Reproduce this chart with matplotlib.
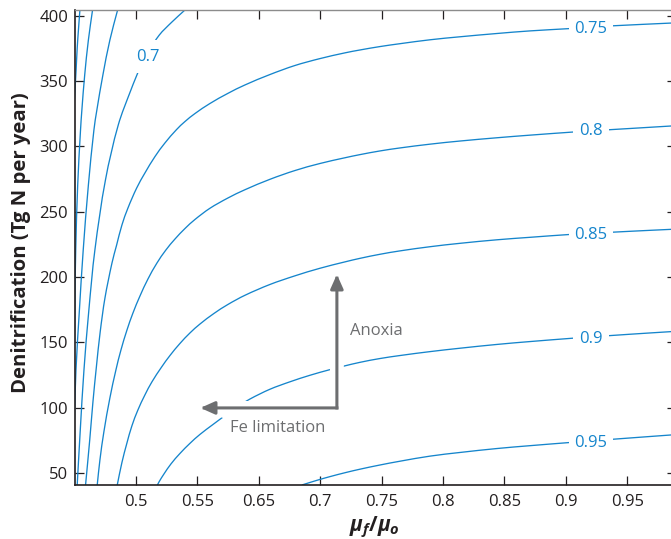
import matplotlib
matplotlib.use("Agg")
import numpy as np
import matplotlib.pyplot as plt
from matplotlib.path import Path
from matplotlib.patches import PathPatch

plt.rcParams["font.family"] = ["Open Sans", "DejaVu Sans"]
plt.rcParams["mathtext.fontset"] = "custom"
plt.rcParams["mathtext.it"] = "Open Sans:italic:bold"
plt.rcParams["mathtext.rm"] = "Open Sans:bold"
plt.rcParams["mathtext.bf"] = "Open Sans:bold"

# Contour levels and the (mu_f/mu_o, denitrification) points along each line
levels = [0.55, 0.6, 0.65, 0.7, 0.75, 0.8, 0.85, 0.9, 0.95]

ratio_055 = [0.4544, 0.4532, 0.4522, 0.4513, 0.4503, 0.4497]
denit_055 = [404.4, 389.1, 375.3, 358.4, 341.6, 331.7]

ratio_060 = [0.4647, 0.4613, 0.4583, 0.4560, 0.4549, 0.4526, 0.4510, 0.4502, 0.4497]
denit_060 = [404.4, 381.4, 354.6, 327.8, 312.5, 270.4, 220.7, 174.8, 128.8]

ratio_065 = [0.4851, 0.4788, 0.4731, 0.4682, 0.4658, 0.4613, 0.4571, 0.4540, 0.4512,
             0.4499, 0.4494]
denit_065 = [404.4, 381.4, 354.6, 327.8, 312.5, 270.4, 220.7, 174.8, 128.8,
             90.6, 75.3]

ratio_070 = [0.5399, 0.5293, 0.5190, 0.5102, 0.5033, 0.4959, 0.4856, 0.4752, 0.4666,
             0.4617, 0.4577, 0.4547, 0.4522]
denit_070 = [404.4, 395.2, 385.2, 372.2, 360.0, 343.1, 316.3, 274.3, 220.7,
             174.8, 128.8, 82.9, 40.8]

ratio_075 = [0.9356, 0.8881, 0.8696, 0.8517, 0.8208, 0.7937, 0.7638, 0.7394, 0.7149,
             0.6986, 0.6824, 0.6702, 0.6498, 0.6294, 0.6091, 0.5887, 0.5749, 0.5602,
             0.5480, 0.5399, 0.5331, 0.5236, 0.5155, 0.5073, 0.5006, 0.4935, 0.4886,
             0.4843, 0.4805, 0.4748, 0.4709, 0.4678, 0.4650, 0.4624, 0.4590]
denit_075 = [394.4, 392.3, 391.2, 390.1, 388.4, 386.4, 383.9, 381.6, 378.6,
             376.4, 373.8, 371.6, 367.2, 361.9, 355.0, 347.0, 340.6, 332.8,
             325.1, 319.0, 312.9, 302.6, 292.2, 279.6, 268.1, 252.8, 239.8,
             224.5, 210.7, 184.0, 157.9, 131.1, 104.3, 75.3, 40.8]

ratio_080 = [0.9356, 0.9022, 0.8845, 0.8696, 0.8560, 0.8208, 0.7939, 0.7638, 0.7394,
             0.7149, 0.6986, 0.6824, 0.6702, 0.6498, 0.6294, 0.6091, 0.5887, 0.5749,
             0.5602, 0.5480, 0.5399, 0.5318, 0.5244, 0.5171, 0.5098, 0.5033, 0.4976,
             0.4927, 0.4878, 0.4837, 0.4788, 0.4739, 0.4707, 0.4685]
denit_080 = [315.6, 313.7, 312.7, 311.8, 311.0, 308.6, 306.6, 304.1, 301.7,
             298.8, 296.5, 293.7, 291.3, 286.9, 281.5, 274.8, 266.8, 260.5,
             252.6, 244.0, 237.1, 229.1, 220.7, 210.7, 198.5, 185.5, 172.5,
             159.4, 144.1, 128.8, 107.4, 81.4, 60.0, 40.8]

ratio_085 = [0.9356, 0.9022, 0.8696, 0.8520, 0.8208, 0.7939, 0.7638, 0.7394, 0.7149,
             0.6986, 0.6824, 0.6702, 0.6498, 0.6294, 0.6091, 0.5887, 0.5749, 0.5635,
             0.5521, 0.5440, 0.5358, 0.5277, 0.5209, 0.5130, 0.5073, 0.5016, 0.4967,
             0.4927, 0.4886, 0.4848]
denit_085 = [236.5, 235.0, 233.4, 232.5, 230.4, 228.5, 225.8, 223.2, 220.0,
             217.4, 214.3, 211.6, 206.7, 200.9, 194.3, 186.0, 179.0, 172.1,
             164.0, 157.2, 149.1, 139.9, 131.1, 119.7, 109.7, 98.2, 86.0,
             73.0, 58.0, 40.8]

ratio_090 = [0.9356, 0.9022, 0.8696, 0.8560, 0.8208, 0.7939, 0.7638, 0.7394, 0.7149,
             0.6986, 0.6824, 0.6688, 0.6579, 0.6417, 0.6254, 0.6091, 0.5928, 0.5830,
             0.5738, 0.5627, 0.5521, 0.5440, 0.5358, 0.5285, 0.5228, 0.5190, 0.5175]
denit_090 = [158.2, 156.2, 154.1, 153.2, 150.6, 148.4, 145.5, 142.9, 139.9,
             137.6, 134.7, 131.7, 129.1, 124.8, 119.8, 114.1, 106.6, 100.9,
             94.8, 87.1, 79.5, 72.7, 64.9, 56.9, 49.2, 43.5, 40.8]

ratio_095 = [0.9356, 0.9022, 0.8696, 0.8528, 0.8208, 0.7937, 0.7638, 0.7394, 0.7149,
             0.6986, 0.6824, 0.6702, 0.6579, 0.6474, 0.6351]
denit_095 = [79.1, 76.8, 74.5, 73.3, 70.9, 68.7, 65.7, 62.9, 59.0,
             56.1, 52.9, 50.2, 47.2, 44.4, 40.8]

lines_ratio = [ratio_055, ratio_060, ratio_065, ratio_070, ratio_075,
               ratio_080, ratio_085, ratio_090, ratio_095]
lines_denit = [denit_055, denit_060, denit_065, denit_070, denit_075,
               denit_080, denit_085, denit_090, denit_095]

# Which levels carry an inline label, and where the label sits
labelled_levels = [0.7, 0.75, 0.8, 0.85, 0.9, 0.95]
label_ratio = [0.5098, 0.8704, 0.8704, 0.8704, 0.8704, 0.8704]
label_denit = [368.8, 389.8, 311.8, 231.8, 152.6, 73.2]

xtick_pos = [0.50, 0.55, 0.60, 0.65, 0.70, 0.75, 0.80, 0.85, 0.90]
xtick_labels = ["0.5", "0.55", "0.65", "0.7", "0.75", "0.8", "0.85", "0.9", "0.95"]
ytick_pos = [50, 100, 150, 200, 250, 300, 350, 400]

XLIM = (0.45, 0.9394)
YLIM = (40.8, 404.4)

BLUE = "#1585cc"
GRAY = "#6d6e70"
INK = "#231f20"


def smooth_path(xs, ys):
    """Cubic Bezier path passing through every point (chord-length tangents)."""
    P = np.column_stack([xs, ys]).astype(float)
    span = np.array([XLIM[1] - XLIM[0], YLIM[1] - YLIM[0]])
    d = np.hypot(*(np.diff(P, axis=0) / span).T)
    t = np.concatenate([[0.0], np.cumsum(d)])
    n = len(P)
    T = np.empty_like(P)
    T[0] = (P[1] - P[0]) / (t[1] - t[0])
    T[-1] = (P[-1] - P[-2]) / (t[-1] - t[-2])
    for i in range(1, n - 1):
        T[i] = (P[i + 1] - P[i - 1]) / (t[i + 1] - t[i - 1])
    verts = [P[0]]
    codes = [Path.MOVETO]
    for i in range(n - 1):
        h = t[i + 1] - t[i]
        verts += [P[i] + T[i] * h / 3, P[i + 1] - T[i + 1] * h / 3, P[i + 1]]
        codes += [Path.CURVE4] * 3
    return Path(verts, codes)


W, H = 671, 539
fig = plt.figure(figsize=(W / 100, H / 100), dpi=100)
ax = fig.add_axes([74.5 / W, 1 - 485 / H, (675.7 - 74.5) / W, (485 - 10) / H])
ax.set_xlim(*XLIM)
ax.set_ylim(*YLIM)

for xs, ys in zip(lines_ratio, lines_denit):
    ax.add_patch(PathPatch(smooth_path(xs, ys), fill=False, ec=BLUE, lw=0.95,
                           joinstyle="round", zorder=2))

for lev, lx, ly in zip(labelled_levels, label_ratio, label_denit):
    pad = 0.5 if lev == 0.7 else 0.35
    ax.text(lx, ly, f"{lev:g}", color=BLUE, fontsize=12, ha="center", va="center",
            bbox=dict(boxstyle=f"square,pad={pad}", fc="white", ec="none"), zorder=4)

# Process arrows: anoxia (up) and Fe limitation (left), with a white halo
corner = (0.6636, 99.8)
tips = [(0.6636, 202.0), (0.5525, 99.8)]
style = "-|>,head_length=0.85,head_width=0.38"
for tip in tips:
    ax.annotate("", xy=tip, xytext=corner,
                arrowprops=dict(arrowstyle=style, color="white", lw=10,
                                shrinkA=0, shrinkB=0), zorder=5)
for tip in tips:
    ax.annotate("", xy=tip, xytext=corner,
                arrowprops=dict(arrowstyle=style, color=GRAY, lw=2.2,
                                shrinkA=0, shrinkB=0, capstyle="projecting"), zorder=6)

ax.text(0.6742, 158.7, "Anoxia", color=GRAY, fontsize=12, ha="left", va="center", zorder=6)
ax.text(0.6156, 84.4, "Fe limitation", color=GRAY, fontsize=12, ha="center", va="center",
        zorder=6)

ax.set_xticks(xtick_pos)
ax.set_xticklabels(xtick_labels)
ax.set_yticks(ytick_pos)
ax.tick_params(which="both", direction="in", length=6.5, width=0.9, colors=INK,
               top=True, right=True, labelsize=12)
ax.tick_params(axis="y", pad=4.5)
ax.tick_params(axis="x", pad=6.5)

for side in ["left", "bottom", "right"]:
    ax.spines[side].set_color(INK)
    ax.spines[side].set_linewidth(1.2)
ax.spines["top"].set_color("#8c8c8c")
ax.spines["top"].set_linewidth(1.0)

fig.text(21 / W, 1 - 242.5 / H, "Denitrification (Tg N per year)", rotation=90,
         ha="center", va="center", fontsize=14.6, fontweight="bold", color=INK)
fig.text(374 / W, 1 - 531 / H, r"$\mu_f/\mu_o$", ha="center", va="baseline",
         fontsize=15, color=INK)

fig.savefig("out.png", dpi=100)
